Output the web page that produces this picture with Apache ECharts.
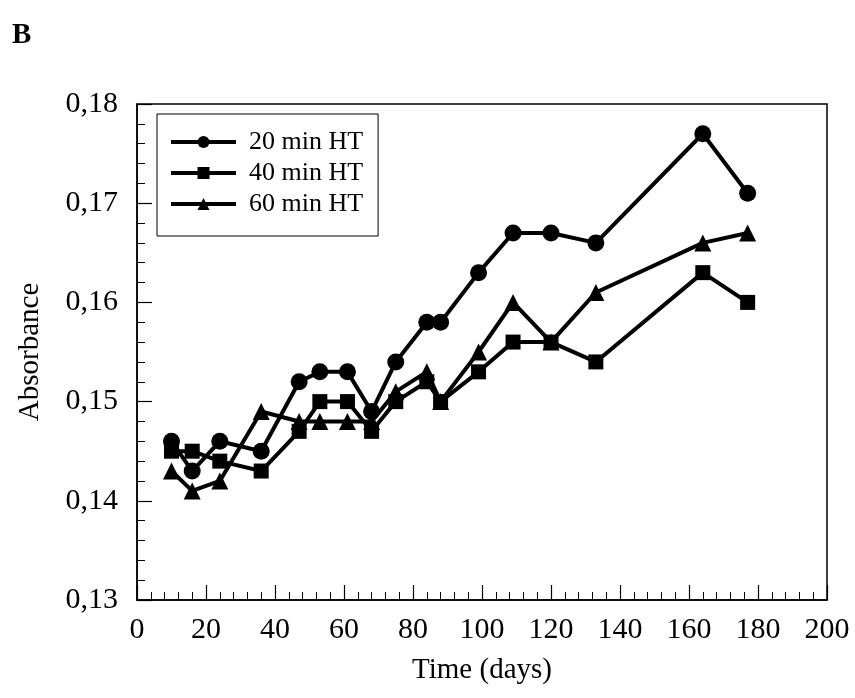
<!DOCTYPE html>
<html>
<head>
<meta charset="utf-8">
<script src="https://cdn.jsdelivr.net/npm/echarts@6/dist/echarts.min.js"></script>
<style>
  html, body { margin: 0; padding: 0; background: #fff; }
  #chart { width: 855px; height: 698px; }
</style>
</head>
<body>
<div id="chart"></div>
<script>
// 时间（天）
const days = [10, 16, 24, 36, 47, 53, 61, 68, 75, 84, 88, 99, 109, 120, 133, 164, 177];
// 吸光度
const ht20 = [0.146, 0.143, 0.146, 0.145, 0.152, 0.153, 0.153, 0.149, 0.154, 0.158, 0.158, 0.163, 0.167, 0.167, 0.166, 0.177, 0.171];
const ht40 = [0.145, 0.145, 0.144, 0.143, 0.147, 0.150, 0.150, 0.147, 0.150, 0.152, 0.150, 0.153, 0.156, 0.156, 0.154, 0.163, 0.160];
const ht60 = [0.143, 0.141, 0.142, 0.149, 0.148, 0.148, 0.148, 0.148, 0.151, 0.153, 0.150, 0.155, 0.160, 0.156, 0.161, 0.166, 0.167];
const seriesNames = ['20 min HT', '40 min HT', '60 min HT'];

const font = 'Liberation Serif';

function pairs(ys) {
    return days.map((d, i) => [d, ys[i]]);
}

function lineSeries(name, ys, symbol, size) {
    return {
        name: name,
        type: 'line',
        data: pairs(ys),
        symbol: symbol,
        symbolSize: size,
        lineStyle: { color: '#000', width: 4 },
        itemStyle: { color: '#000' },
        animation: false
    };
}

const myChart = echarts.init(document.getElementById('chart'));

const options = {
    backgroundColor: '#fff',
    textStyle: { fontFamily: font, color: '#000' },
    grid: {
        left: 137,
        right: 28,
        top: 104,
        bottom: 98,
        show: true,
        borderColor: '#000',
        borderWidth: 1.5
    },
    graphic: [
        {
            type: 'text',
            left: 12,
            top: 21,
            style: { text: 'B', fontFamily: font, fontSize: 29, fontWeight: 'bold', fill: '#000' }
        }
    ],
    legend: {
        left: 157,
        top: 114,
        orient: 'vertical',
        data: seriesNames,
        itemWidth: 65,
        itemHeight: 15,
        itemGap: 5,
        padding: [15, 15, 19, 12],
        borderColor: '#000',
        borderWidth: 1,
        lineStyle: { width: 4 },
        textStyle: { fontFamily: font, fontSize: 26, color: '#000', padding: [0, 0, 0, 8] }
    },
    xAxis: {
        type: 'value',
        min: 0,
        max: 200,
        interval: 20,
        name: 'Time (days)',
        nameLocation: 'middle',
        nameGap: 56,
        nameTextStyle: { fontFamily: font, fontSize: 29, color: '#000' },
        axisLine: { show: true, lineStyle: { color: '#000', width: 1.5 } },
        axisTick: { show: true, inside: true, length: 15, lineStyle: { color: '#000', width: 1.2 } },
        minorTick: { show: true, splitNumber: 5, length: 8, lineStyle: { color: '#000', width: 1 } },
        axisLabel: { fontFamily: font, fontSize: 30, color: '#000', margin: 15 },
        splitLine: { show: false }
    },
    yAxis: {
        type: 'value',
        min: 0.13,
        max: 0.18,
        interval: 0.01,
        name: 'Absorbance',
        nameLocation: 'middle',
        nameGap: 92,
        nameTextStyle: { fontFamily: font, fontSize: 29, color: '#000' },
        axisLine: { show: true, lineStyle: { color: '#000', width: 1.5 } },
        axisTick: { show: true, inside: true, length: 15, lineStyle: { color: '#000', width: 1.2 } },
        minorTick: { show: true, splitNumber: 5, length: 8, lineStyle: { color: '#000', width: 1 } },
        axisLabel: {
            fontFamily: font,
            fontSize: 30,
            color: '#000',
            margin: 19,
            formatter: v => v.toFixed(2).replace('.', ',')
        },
        splitLine: { show: false }
    },
    series: [
        lineSeries(seriesNames[0], ht20, 'circle', 17),
        lineSeries(seriesNames[1], ht40, 'rect', 15),
        lineSeries(seriesNames[2], ht60, 'triangle', 17)
    ]
};

// 绘制图表
myChart.setOption(options);
</script>
</body>
</html>
